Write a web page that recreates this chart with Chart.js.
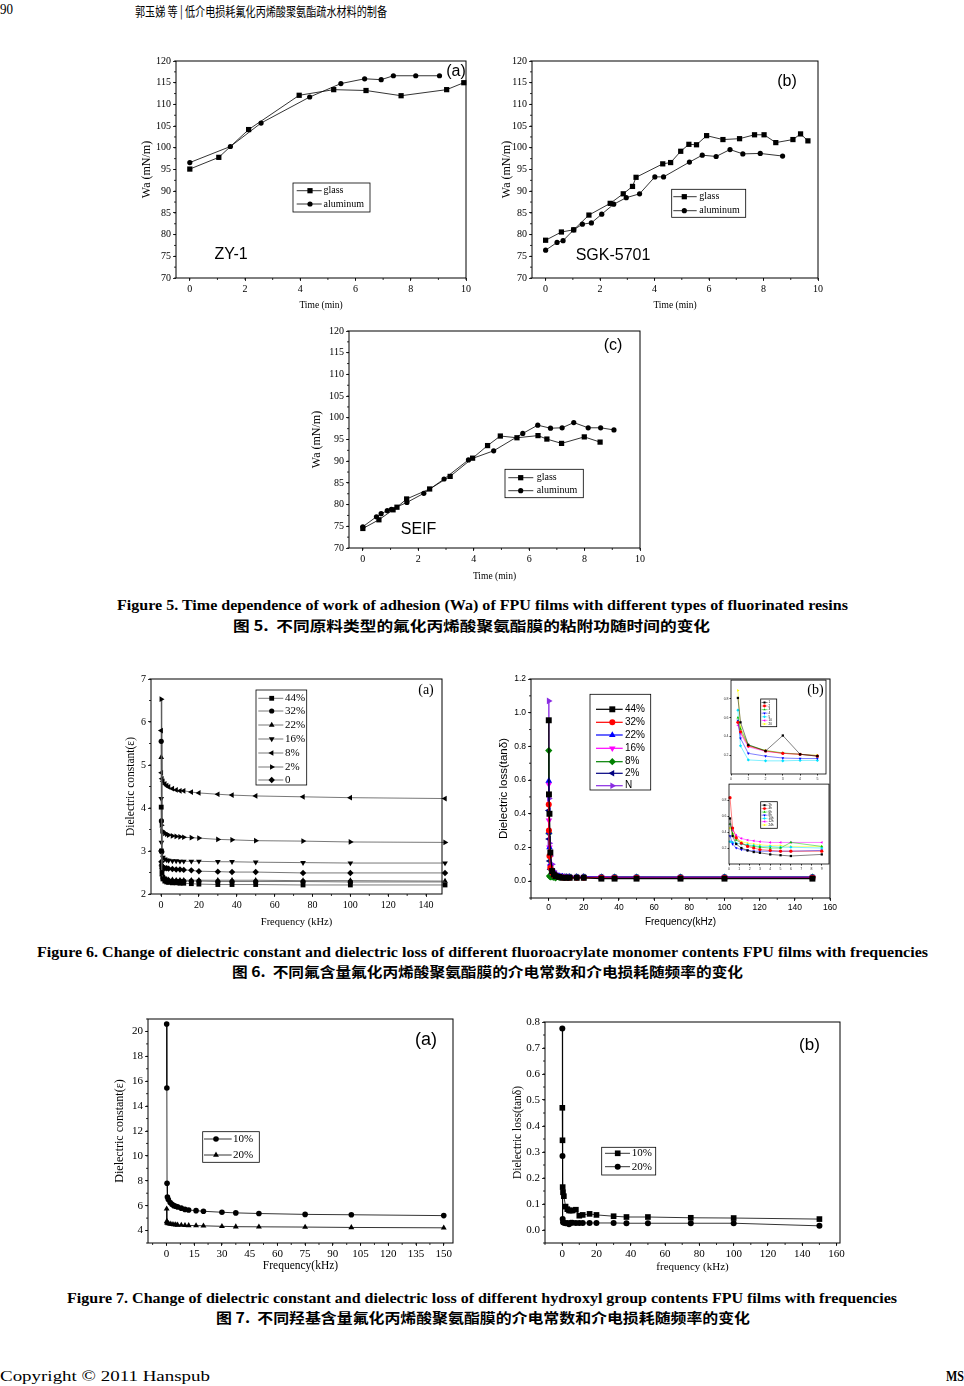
<!DOCTYPE html>
<html>
<head>
<meta charset="utf-8">
<script src="https://cdn.jsdelivr.net/npm/chart.js@4.4.0/dist/chart.umd.min.js"></script>
<style>
body{margin:0;width:964px;height:1386px;position:relative;background:#fff;overflow:hidden}
canvas{position:absolute}
.t{position:absolute;white-space:nowrap;transform-origin:0 50%;line-height:1;color:#000}
.en{font-family:"Liberation Serif";font-weight:bold;font-size:14px}
.zh{font-family:"Noto Sans CJK SC";font-weight:bold;font-size:14px}
</style>
</head>
<body>
<div class="t" style="left:0;top:10px;font:14px 'Liberation Serif'" data-w="13">90</div>
<div class="t" style="left:135px;top:10px;font:13px 'Noto Sans CJK SC'" data-w="252">郭玉娣 等 | 低介电损耗氟化丙烯酸聚氨酯疏水材料的制备</div>

<canvas id="f5a"></canvas>
<canvas id="f5b"></canvas>
<canvas id="f5c"></canvas>
<div class="t en" style="left:117px;top:606px" data-w="731">Figure 5. Time dependence of work of adhesion (Wa) of FPU films with different types of fluorinated resins</div>
<div class="t zh" style="left:233px;top:625px" data-w="477">图 5.&nbsp; 不同原料类型的氟化丙烯酸聚氨酯膜的粘附功随时间的变化</div>

<canvas id="f6a"></canvas>
<canvas id="f6b"></canvas>
<canvas id="in1"></canvas>
<canvas id="in2"></canvas>
<div class="t en" style="left:37px;top:953px" data-w="891">Figure 6. Change of dielectric constant and dielectric loss of different fluoroacrylate monomer contents FPU films with frequencies</div>
<div class="t zh" style="left:232px;top:971px" data-w="511">图 6.&nbsp; 不同氟含量氟化丙烯酸聚氨酯膜的介电常数和介电损耗随频率的变化</div>

<canvas id="f7a"></canvas>
<canvas id="f7b"></canvas>
<div class="t en" style="left:67px;top:1299px" data-w="830">Figure 7. Change of dielectric constant and dielectric loss of different hydroxyl group contents FPU films with frequencies</div>
<div class="t zh" style="left:216px;top:1317px" data-w="534">图 7.&nbsp; 不同羟基含量氟化丙烯酸聚氨酯膜的介电常数和介电损耗随频率的变化</div>

<div class="t" style="left:0;top:1376px;font:15px 'Liberation Serif'" data-w="210">Copyright © 2011 Hanspub</div>
<div class="t" style="left:946px;top:1376px;font:bold 15px 'Liberation Serif'" data-w="18">MS</div>

<script>
// ---- Figure 5 : Wa vs time ----
const f5aGlassT = [0, 1.05, 2.13, 3.96, 5.21, 6.38, 7.65, 9.3, 9.92];
const f5aGlassW = [95.1, 97.8, 104.2, 112.1, 113.4, 113.2, 112.0, 113.4, 115.0];
const f5aAlT = [0, 1.47, 2.58, 4.34, 5.47, 6.33, 6.93, 7.37, 8.18, 9.04];
const f5aAlW = [96.6, 100.3, 105.7, 111.7, 114.8, 115.9, 115.7, 116.6, 116.6, 116.6];

const f5bGlassT = [0, 0.58, 1.03, 1.59, 2.37, 2.85, 3.19, 3.32, 4.3, 4.59, 4.96, 5.26, 5.54, 5.91, 6.51, 7.12, 7.67, 8.02, 8.45, 9.08, 9.36, 9.63];
const f5bGlassW = [78.7, 80.6, 81.1, 84.5, 87.2, 89.4, 91.1, 93.2, 96.3, 96.6, 99.2, 100.8, 100.7, 102.8, 101.9, 102.1, 103.0, 103.0, 101.2, 101.9, 103.2, 101.6];
const f5bAlT = [0, 0.42, 0.64, 1.03, 1.35, 1.68, 2.06, 2.5, 2.96, 3.45, 4.01, 4.33, 5.28, 5.75, 6.26, 6.77, 7.24, 7.88, 8.7];
const f5bAlW = [76.4, 78.2, 78.6, 81.1, 82.4, 82.7, 84.7, 87.0, 88.5, 89.4, 93.3, 93.3, 96.7, 98.3, 98.0, 99.6, 98.6, 98.7, 98.1];

const f5cGlassT = [0, 0.58, 1.09, 1.23, 1.58, 2.41, 3.15, 3.96, 4.5, 4.96, 5.56, 6.32, 6.64, 7.17, 7.99, 8.56];
const f5cGlassW = [74.5, 76.5, 78.8, 79.4, 81.3, 83.6, 86.5, 90.7, 93.6, 95.8, 95.4, 95.9, 95.1, 94.1, 95.6, 94.4];
const f5cAlT = [0, 0.49, 0.66, 0.88, 1.03, 1.59, 2.2, 2.93, 3.81, 4.72, 5.77, 6.31, 6.77, 7.19, 7.61, 8.13, 8.58, 9.06];
const f5cAlW = [74.9, 77.2, 77.9, 78.6, 78.9, 80.5, 82.6, 85.9, 90.3, 92.4, 96.4, 98.3, 97.6, 97.7, 98.9, 97.7, 97.7, 97.2];

const f5xTicks = [0, 2, 4, 6, 8, 10];
const f5yTicks = [70, 75, 80, 85, 90, 95, 100, 105, 110, 115, 120];

// ---- Figure 6a : dielectric constant, fluoro monomer content ----
const f6Freq = [0.1, 0.2, 0.5, 1, 2, 3, 4, 6, 8, 10, 12, 16, 20, 30, 37.5, 50, 75, 100, 150];
const f6aLabels = ['44%', '32%', '22%', '16%', '8%', '2%', '0'];
const f6a44 = [4.02, 3.0, 2.5, 2.35, 2.3, 2.28, 2.27, 2.26, 2.26, 2.25, 2.25, 2.24, 2.23, 2.22, 2.22, 2.22, 2.21, 2.21, 2.21];
const f6a32 = [5.55, 3.7, 2.6, 2.4, 2.34, 2.32, 2.31, 2.30, 2.30, 2.30, 2.30, 2.30, 2.30, 2.29, 2.29, 2.29, 2.29, 2.28, 2.28];
const f6a22 = [5.18, 2.7, 2.45, 2.38, 2.35, 2.34, 2.33, 2.33, 2.32, 2.32, 2.32, 2.32, 2.32, 2.32, 2.32, 2.32, 2.31, 2.31, 2.30];
const f6a16 = [4.22, 3.2, 2.95, 2.85, 2.81, 2.79, 2.78, 2.77, 2.77, 2.76, 2.76, 2.76, 2.76, 2.75, 2.75, 2.74, 2.73, 2.72, 2.72];
const f6a8 = [5.8, 4.82, 4.68, 4.62, 4.56, 4.52, 4.49, 4.45, 4.42, 4.40, 4.40, 4.37, 4.35, 4.32, 4.30, 4.28, 4.26, 4.24, 4.22];
const f6a2 = [6.53, 3.6, 3.47, 3.44, 3.41, 3.39, 3.37, 3.35, 3.34, 3.33, 3.32, 3.31, 3.30, 3.27, 3.26, 3.24, 3.23, 3.21, 3.20];
const f6a0 = [3.0, 2.75, 2.65, 2.62, 2.6, 2.6, 2.59, 2.58, 2.57, 2.57, 2.56, 2.55, 2.53, 2.52, 2.51, 2.51, 2.49, 2.49, 2.49];
const f6aXTicks = [0, 20, 40, 60, 80, 100, 120, 140];
const f6aYTicks = [2, 3, 4, 5, 6, 7];

// ---- Figure 6b : dielectric loss ----
const f6bLabels = ['44%', '32%', '22%', '16%', '8%', '2%', 'N'];
const f6b44 = [0.955, 0.515, 0.40, 0.17, 0.06, 0.04, 0.03, 0.025, 0.02, 0.02, 0.02, 0.02, 0.02, 0.015, 0.015, 0.015, 0.015, 0.015, 0.015];
const f6b32 = [0.455, 0.3, 0.15, 0.08, 0.05, 0.035, 0.03, 0.025, 0.022, 0.02, 0.02, 0.02, 0.02, 0.02, 0.018, 0.018, 0.018, 0.018, 0.018];
const f6b22 = [0.595, 0.29, 0.2, 0.1, 0.05, 0.04, 0.035, 0.03, 0.028, 0.025, 0.025, 0.024, 0.024, 0.023, 0.022, 0.022, 0.022, 0.022, 0.022];
const f6b16 = [0.575, 0.36, 0.2, 0.09, 0.05, 0.04, 0.035, 0.03, 0.028, 0.026, 0.025, 0.025, 0.024, 0.024, 0.023, 0.023, 0.022, 0.022, 0.022];
const f6b8 = [0.775, 0.285, 0.03, 0.025, 0.025, 0.022, 0.02, 0.022, 0.025, 0.025, 0.025, 0.025, 0.025, 0.024, 0.024, 0.024, 0.024, 0.024, 0.024];
const f6b2 = [0.42, 0.25, 0.12, 0.07, 0.045, 0.035, 0.03, 0.028, 0.026, 0.025, 0.025, 0.024, 0.024, 0.024, 0.023, 0.023, 0.023, 0.023, 0.023];
const f6bN = [1.07, 0.49, 0.225, 0.15, 0.1, 0.06, 0.045, 0.035, 0.03, 0.028, 0.027, 0.026, 0.026, 0.025, 0.025, 0.025, 0.024, 0.024, 0.024];
const f6bXTicks = [0, 20, 40, 60, 80, 100, 120, 140, 160];
const f6bYTicks = [0, 0.2, 0.4, 0.6, 0.8, 1.0, 1.2];

// insets of 6b (text too small to read in the source)
const in1X = [0.4, 0.55, 1, 2, 3, 4, 5];
const in1Labels = ['1', '2', '3', '4', '5', '10', '20'];
const in1Vals = [
  [0.81, 0.55, 0.31, 0.245, 0.41, 0.21, 0.19],
  [0.55, 0.45, 0.30, 0.245, 0.22, 0.21, 0.19],
  [0.60, 0.48, 0.31, 0.25, 0.225, 0.21, 0.195],
  [0.57, 0.38, 0.22, 0.19, 0.17, 0.165, 0.165],
  [0.68, 0.30, 0.15, 0.14, 0.14, 0.145, 0.145],
  [0.52, 0.43, 0.29, 0.24, 0.22, 0.21, 0.195],
  [0.89, 0.50, 0.30, 0.25, 0.22, 0.21, 0.20]
];
const in2X = [0.1, 0.35, 0.7, 1.2, 1.8, 2.4, 3, 4, 5, 6, 9];
const in2Labels = ['2h', '4h', '6h', '8h', '10h', '12h', '24h'];
const in2Vals = [
  [0.57, 0.35, 0.25, 0.20, 0.17, 0.15, 0.14, 0.12, 0.11, 0.10, 0.12],
  [0.83, 0.45, 0.33, 0.26, 0.22, 0.20, 0.18, 0.17, 0.16, 0.16, 0.16],
  [0.50, 0.38, 0.30, 0.26, 0.23, 0.22, 0.21, 0.20, 0.20, 0.27, 0.22],
  [0.35, 0.25, 0.20, 0.18, 0.17, 0.16, 0.16, 0.16, 0.16, 0.16, 0.17],
  [0.28, 0.27, 0.26, 0.25, 0.24, 0.23, 0.22, 0.22, 0.21, 0.21, 0.20],
  [0.50, 0.42, 0.36, 0.32, 0.30, 0.29, 0.28, 0.27, 0.27, 0.27, 0.27],
  [0.45, 0.38, 0.32, 0.28, 0.26, 0.25, 0.24, 0.23, 0.23, 0.22, 0.22]
];
const insetColors = ['#000000', '#ff0000', '#00c000', '#0000ff', '#00e0ff', '#ff00ff', '#ffff00'];
const insetStyles = ['rect', 'circle', 'triangle', 'triangle', 'rectRot', 'triangle', 'triangle'];
const insetRot = [0, 0, 0, 180, 0, -90, 90];

// ---- Figure 7 : hydroxyl content ----
const f7Freq = [0.1, 0.2, 0.3, 0.5, 1, 2, 3, 4, 5, 6, 8, 10, 12, 16, 20, 30, 37.5, 50, 75, 100, 150];
const f7a10 = [20.6, 15.45, 7.8, 6.7, 6.5, 6.25, 6.1, 6.0, 5.95, 5.9, 5.8, 5.7, 5.65, 5.6, 5.55, 5.47, 5.42, 5.37, 5.3, 5.27, 5.2];
const f7a20 = [5.75, 4.75, 4.65, 4.6, 4.57, 4.53, 4.5, 4.48, 4.47, 4.45, 4.44, 4.42, 4.41, 4.4, 4.38, 4.34, 4.31, 4.3, 4.28, 4.25, 4.22];
const f7b10 = [0.47, 0.345, 0.165, 0.145, 0.13, 0.09, 0.08, 0.075, 0.075, 0.075, 0.078, 0.055, 0.058, 0.062, 0.058, 0.053, 0.05, 0.05, 0.047, 0.046, 0.042];
const f7b20 = [0.775, 0.285, 0.042, 0.03, 0.028, 0.026, 0.027, 0.022, 0.028, 0.028, 0.027, 0.027, 0.027, 0.027, 0.027, 0.027, 0.026, 0.026, 0.026, 0.026, 0.016];
const f7aXTicks = [0, 15, 30, 45, 60, 75, 90, 105, 120, 135, 150];
const f7aYTicks = [4, 6, 8, 10, 12, 14, 16, 18, 20];
const f7bXTicks = [0, 20, 40, 60, 80, 100, 120, 140, 160];
const f7bYTicks = [0, 0.1, 0.2, 0.3, 0.4, 0.5, 0.6, 0.7, 0.8];

Chart.defaults.font.family = 'Liberation Serif';
Chart.defaults.color = '#000';

const SERIF = 'Liberation Serif', SANS = 'Liberation Sans';
const fnt = (size, family) => ({ size, family: family || SERIF, lineHeight: 1.2 });

// frame, minor ticks, text notes and an in-plot legend
const framePlugin = {
  id: 'frame',
  afterDraw(chart, args, o) {
    const { ctx, chartArea: a } = chart;
    const x = chart.scales.x, y = chart.scales.y;
    const [ox, oy] = o.off;
    ctx.save();
    ctx.strokeStyle = '#000';
    ctx.lineWidth = o.lw || 1;
    ctx.strokeRect(a.left, a.top, a.right - a.left, a.bottom - a.top);
    ctx.lineWidth = 0.8;
    ctx.beginPath();
    if (o.xm) {
      for (let k = Math.ceil(x.min / o.xm); k * o.xm <= x.max + 1e-9; k++) {
        const px = x.getPixelForValue(k * o.xm);
        ctx.moveTo(px, a.bottom); ctx.lineTo(px, a.bottom + o.ml);
      }
    }
    if (o.ym) {
      for (let k = Math.ceil(y.min / o.ym); k * o.ym <= y.max + 1e-9; k++) {
        const py = y.getPixelForValue(k * o.ym);
        ctx.moveTo(a.left, py); ctx.lineTo(a.left - o.ml, py);
      }
    }
    ctx.stroke();
    ctx.fillStyle = '#000';
    ctx.textAlign = 'center';
    ctx.textBaseline = 'middle';
    (o.notes || []).forEach(n => {
      ctx.font = n.font;
      ctx.fillText(n.text, n.x - ox, n.y - oy);
    });
    const L = o.legend;
    if (L) {
      ctx.lineWidth = 0.8;
      ctx.strokeStyle = '#000';
      ctx.strokeRect(L.box[0] - ox, L.box[1] - oy, L.box[2] - L.box[0], L.box[3] - L.box[1]);
      ctx.font = L.font;
      ctx.textAlign = 'left';
      chart.data.datasets.forEach((d, i) => {
        const yy = L.rows[i] - oy;
        ctx.strokeStyle = d.borderColor;
        ctx.lineWidth = d.borderWidth;
        ctx.beginPath();
        ctx.moveTo(L.line[0] - ox, yy); ctx.lineTo(L.line[1] - ox, yy);
        ctx.stroke();
        ctx.fillStyle = d.pointBackgroundColor;
        Chart.helpers.drawPoint(ctx, { pointStyle: d.pointStyle, rotation: d.pointRotation || 0, radius: (L.pr || 1) * d.pointRadius, borderWidth: 0 }, L.mark - ox, yy);
        ctx.fillStyle = '#000';
        ctx.fillText(d.label, L.textX - ox, yy);
      });
    }
    ctx.restore();
  }
};

function ser(label, xs, ys, st) {
  return {
    label,
    data: xs.map((v, i) => ({ x: v, y: ys[i] })),
    borderColor: st.lc || st.c,
    backgroundColor: st.c,
    pointBackgroundColor: st.c,
    pointBorderColor: st.c,
    borderWidth: st.w || 0.8,
    pointBorderWidth: 0,
    pointStyle: st.p,
    pointRotation: st.rot || 0,
    pointRadius: st.r,
    pointHoverRadius: st.r,
    tension: 0,
    clip: 8
  };
}

function plot(id, box, c) {
  const padL = c.padL || 60, padT = c.padT || 12, padR = c.padR || 24, padB = c.padB || 45;
  const cv = document.getElementById(id);
  const W = box.r - box.l + padL + padR, H = box.b - box.t + padT + padB;
  const ox = box.l - padL, oy = box.t - padT;
  cv.width = W; cv.height = H;
  cv.style.left = ox + 'px'; cv.style.top = oy + 'px';
  cv.style.width = W + 'px'; cv.style.height = H + 'px';
  const xTitle = c.xTitle ? { display: true, text: c.xTitle, font: c.xtf, padding: { top: 0, bottom: padB - c.xd - c.xtf.size * 0.6 } } : { display: false };
  const yTitle = c.yTitle ? { display: true, text: c.yTitle, font: c.ytf, padding: { top: padL - c.yd - c.ytf.size * 0.6, bottom: 0 } } : { display: false };
  const grid = { drawOnChartArea: false, drawTicks: true, tickLength: c.tl || 3, color: '#000', lineWidth: 0.8 };
  new Chart(cv, {
    type: 'line',
    data: { datasets: c.datasets },
    options: {
      responsive: false,
      animation: false,
      events: [],
      layout: { padding: { left: 0, top: padT, right: padR, bottom: 0 } },
      scales: {
        x: {
          type: 'linear', min: c.xr[0], max: c.xr[1],
          afterBuildTicks: s => { s.ticks = c.xt.map(v => ({ value: v })); },
          afterFit: s => { s.height = padB; },
          ticks: { font: c.tf, color: c.tc || '#000', padding: c.tp || 2, autoSkip: false, maxRotation: 0, callback: c.xf || (v => String(v)) },
          grid, border: { display: false }, title: xTitle
        },
        y: {
          type: 'linear', min: c.yr[0], max: c.yr[1],
          afterBuildTicks: s => { s.ticks = c.yt.map(v => ({ value: v })); },
          afterFit: s => { s.width = padL; },
          ticks: { font: c.tf, color: c.tc || '#000', padding: c.tp || 2, autoSkip: false, callback: c.yf || (v => String(v)) },
          grid, border: { display: false }, title: yTitle
        }
      },
      plugins: {
        legend: { display: false },
        tooltip: { enabled: false },
        frame: { off: [ox, oy], xm: c.xm, ym: c.ym, ml: c.ml || 2, lw: c.lw, notes: c.notes, legend: c.legend }
      }
    },
    plugins: [framePlugin]
  });
}

const sq = (r) => ({ c: '#000', p: 'rect', r: r || 3.7 });
const ci = (r) => ({ c: '#000', p: 'circle', r: r || 2.6 });

// Figure 5
const f5common = {
  xr: [-0.5, 10], xt: f5xTicks, xm: 1, yr: [70, 120], yt: f5yTicks, ym: 2.5,
  tf: fnt(10), xtf: fnt(9.5), ytf: fnt(12), xTitle: 'Time (min)', yTitle: 'Wa (mN/m)'
};
plot('f5a', { l: 176, t: 61, r: 466, b: 278 }, Object.assign({}, f5common, {
  xd: 27, yd: 29,
  datasets: [ser('glass', f5aGlassT, f5aGlassW, sq()), ser('aluminum', f5aAlT, f5aAlW, ci())],
  notes: [{ text: '(a)', x: 456, y: 72, font: '16px ' + SANS }, { text: 'ZY-1', x: 231, y: 255, font: '16px ' + SANS }],
  legend: { box: [293, 183, 370, 212], rows: [190.7, 204], line: [296.7, 321.7], mark: 310, textX: 323.5, font: '10px ' + SERIF }
}));
plot('f5b', { l: 532, t: 61, r: 818, b: 278 }, Object.assign({}, f5common, {
  xd: 27, yd: 25,
  datasets: [ser('glass', f5bGlassT, f5bGlassW, sq()), ser('aluminum', f5bAlT, f5bAlW, ci())],
  notes: [{ text: '(b)', x: 787, y: 82, font: '16px ' + SANS }, { text: 'SGK-5701', x: 613, y: 256, font: '16px ' + SANS }],
  legend: { box: [671.7, 189.3, 745.7, 217.3], rows: [196.7, 210.7], line: [673.3, 696.7], mark: 684.3, textX: 699.3, font: '10px ' + SERIF }
}));
plot('f5c', { l: 349, t: 331, r: 640, b: 548 }, Object.assign({}, f5common, {
  xd: 28.7, yd: 32,
  datasets: [ser('glass', f5cGlassT, f5cGlassW, sq()), ser('aluminum', f5cAlT, f5cAlW, ci())],
  notes: [{ text: '(c)', x: 613, y: 346, font: '16px ' + SANS }, { text: 'SEIF', x: 418.5, y: 530, font: '16px ' + SANS }],
  legend: { box: [505, 469.3, 583.3, 497.7], rows: [477.7, 490.7], line: [508.3, 533.3], mark: 520.7, textX: 536.7, font: '10px ' + SERIF }
}));

// Figure 6a
const f6aSeries = [f6a44, f6a32, f6a22, f6a16, f6a8, f6a2, f6a0];
const f6aStyles = [
  { p: 'rect', r: 3.4 }, { p: 'circle', r: 2.6 }, { p: 'triangle', r: 3.3 }, { p: 'triangle', r: 3.3, rot: 180 },
  { p: 'triangle', r: 3.3, rot: -90 }, { p: 'triangle', r: 3.3, rot: 90 }, { p: 'rectRot', r: 3.2 }
];
plot('f6a', { l: 151, t: 679, r: 442, b: 894 }, {
  xr: [-5.3, 148.4], xt: f6aXTicks, xm: 10, yr: [2, 7], yt: f6aYTicks, ym: 0.5,
  tf: fnt(10), xtf: fnt(10.5), ytf: fnt(11.5), xTitle: 'Frequency (kHz)', yTitle: 'Dielectric constant(ε)', xd: 28.3, yd: 20.5,
  datasets: f6aSeries.map((s, i) => ser(f6aLabels[i], f6Freq, s, Object.assign({ c: '#000', lc: '#555' }, f6aStyles[i]))),
  notes: [{ text: '(a)', x: 426, y: 690, font: '14px ' + SERIF }],
  legend: { box: [256, 690, 306.7, 785], rows: [698.3, 711, 725, 739, 753, 767, 780], line: [258.3, 283.3], mark: 271.7, textX: 285, font: '11px ' + SERIF }
});

// Figure 6b
const f6bSeries = [f6b44, f6b32, f6b22, f6b16, f6b8, f6b2, f6bN];
const f6bStyles = [
  { c: '#000000', p: 'rect', r: 4.2 }, { c: '#ff0000', p: 'circle', r: 3.0 }, { c: '#0000ff', p: 'triangle', r: 3.8 },
  { c: '#ff00ff', p: 'triangle', r: 3.8, rot: 180 }, { c: '#008000', p: 'rectRot', r: 3.6 },
  { c: '#000080', p: 'triangle', r: 3.8, rot: -90 }, { c: '#8a2be2', p: 'triangle', r: 3.8, rot: 90 }
];
plot('f6b', { l: 531, t: 679, r: 830, b: 898 }, {
  xr: [-10, 160], xt: f6bXTicks, xm: 10, yr: [-0.1, 1.2], yt: f6bYTicks, ym: 0.1,
  tf: fnt(8.5, SANS), xtf: fnt(10, SANS), ytf: fnt(11.5, SANS), xTitle: 'Frequency(kHz)', yTitle: 'Dielectric loss(tanδ)', xd: 24.3, yd: 27,
  yf: v => v.toFixed(1),
  datasets: f6bSeries.map((s, i) => ser(f6bLabels[i], f6Freq, s, Object.assign({ w: 1.2 }, f6bStyles[i]))),
  notes: [{ text: '(b)', x: 815.5, y: 690, font: '14px ' + SERIF }],
  legend: { box: [590, 694.3, 650.7, 790], rows: [709.3, 722.3, 735, 748.3, 761.7, 773.3, 785.7], line: [596, 622.7], mark: 612.3, textX: 625, font: '10px ' + SANS }
});

// insets
plot('in1', { l: 731, t: 680, r: 826, b: 774 }, {
  padL: 14, padT: 3, padR: 4, padB: 10,
  xr: [0, 5.5], xt: [0, 1, 2, 3, 4, 5], yr: [0, 1], yt: [0.2, 0.4, 0.6, 0.8],
  tf: fnt(3.5, SANS), tc: '#333', tl: 1.5, tp: 1, lw: 0.8,
  datasets: in1Vals.map((s, i) => ser(in1Labels[i], in1X, s, { c: insetColors[i], p: insetStyles[i], rot: insetRot[i], r: 1.6, w: 0.5 })),
  legend: { box: [760.7, 699, 776.7, 726.7], rows: [702.5, 706, 709.6, 713.2, 716.8, 720.4, 724], line: [761.5, 767.5], mark: 764.5, textX: 768.5, pr: 0.9, font: '3px ' + SANS }
});
plot('in2', { l: 729, t: 784, r: 829, b: 864 }, {
  padL: 14, padT: 3, padR: 4, padB: 10,
  xr: [0, 9.7], xt: [0, 1, 2, 3, 4, 5, 6, 7, 8, 9], yr: [0, 1], yt: [0.2, 0.4, 0.6, 0.8],
  tf: fnt(3.5, SANS), tc: '#333', tl: 1.5, tp: 1, lw: 0.8,
  datasets: in2Vals.map((s, i) => ser(in2Labels[i], in2X, s, { c: insetColors[i], p: insetStyles[i], rot: insetRot[i], r: 1.6, w: 0.5 })),
  legend: { box: [760.7, 801.7, 777.3, 828.3], rows: [805.2, 808.6, 812, 815.2, 818.4, 821.6, 825], line: [761.5, 767.5], mark: 764.5, textX: 768.5, pr: 0.9, font: '3px ' + SANS }
});

// Figure 7a
plot('f7a', { l: 148, t: 1019, r: 453, b: 1243 }, {
  xr: [-10, 155], xt: f7aXTicks, xm: 7.5, yr: [3, 21], yt: f7aYTicks, ym: 1,
  tf: fnt(11), xtf: fnt(11.5), ytf: fnt(12), xTitle: 'Frequency(kHz)', yTitle: 'Dielectric constant(ε)', xd: 23, yd: 28,
  datasets: [ser('10%', f7Freq, f7a10, { c: '#000', p: 'circle', r: 2.8 }), ser('20%', f7Freq, f7a20, { c: '#000', p: 'triangle', r: 3.4 })],
  notes: [{ text: '(a)', x: 426, y: 1040, font: '18px ' + SANS }],
  legend: { box: [202.7, 1131.7, 259.3, 1162.3], rows: [1139, 1155], line: [204, 231.7], mark: 216, textX: 233, font: '11px ' + SERIF }
});

// Figure 7b
plot('f7b', { l: 545, t: 1022, r: 840, b: 1243 }, {
  xr: [-10, 162], xt: f7bXTicks, xm: 10, yr: [-0.05, 0.8], yt: f7bYTicks, ym: 0.05,
  tf: fnt(11), xtf: fnt(11), ytf: fnt(11.5), xTitle: 'frequency (kHz)', yTitle: 'Dielectric loss(tanδ)', xd: 24, yd: 26.7,
  yf: v => v.toFixed(1),
  datasets: [ser('10%', f7Freq, f7b10, { c: '#000', p: 'rect', r: 4.0 }), ser('20%', f7Freq, f7b20, { c: '#000', p: 'circle', r: 3.0 })],
  notes: [{ text: '(b)', x: 809.5, y: 1045.5, font: '17px ' + SANS }],
  legend: { box: [601.7, 1147.3, 655.7, 1175], rows: [1153.3, 1166.7], line: [605, 630], mark: 617.7, textX: 631.7, font: '11px ' + SERIF }
});

// stretch page texts to the widths they have in the original layout
document.querySelectorAll('.t[data-w]').forEach(el => {
  const w = el.getBoundingClientRect().width;
  el.style.transform = 'translateY(-50%) scaleX(' + (el.dataset.w / w) + ')';
});
</script>
</body>
</html>
